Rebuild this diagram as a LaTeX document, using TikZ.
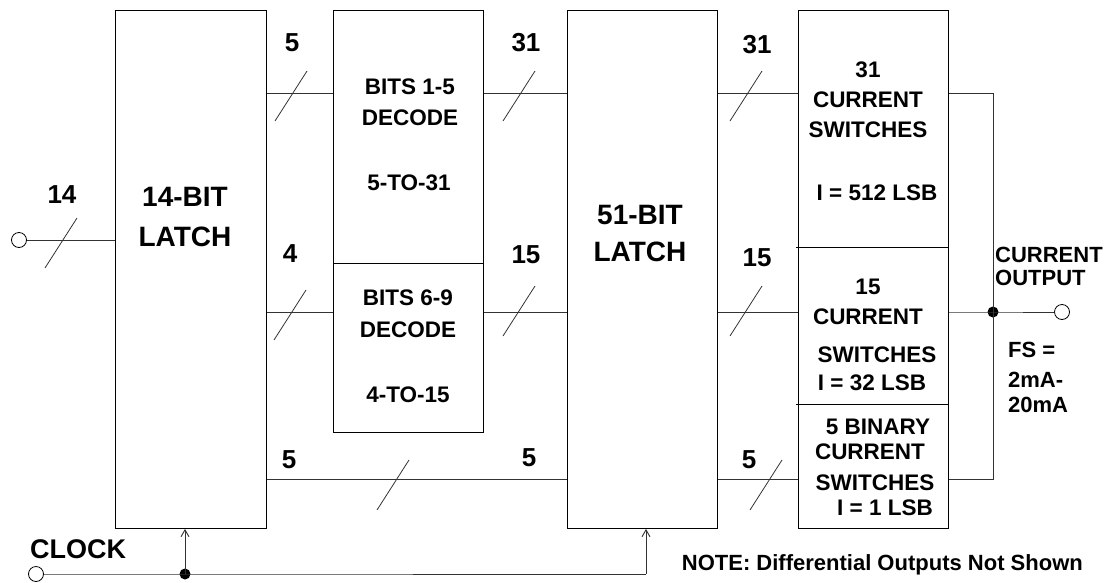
\documentclass[tikz,border=0pt]{standalone}
\usepackage{fontspec}
\setmainfont{Liberation Sans}[BoldFont={Liberation Sans Bold}]
\usetikzlibrary{arrows.meta,calc}
\begin{document}
\begin{tikzpicture}[x=1pt,y=-1pt,
  box/.style={draw=black,line width=0.9pt,inner sep=0pt,anchor=north west},
  wire/.style={draw=black!80,line width=0.9pt},
  lbl/.style={font=\bfseries\fontsize{26}{28}\selectfont,inner sep=0pt},
  big/.style={font=\bfseries\fontsize{28}{30}\selectfont,inner sep=0pt},
  txt/.style={font=\bfseries\fontsize{22.5}{24}\selectfont,inner sep=0pt},
  side/.style={font=\bfseries\fontsize{22}{24}\selectfont,inner sep=0pt,anchor=west},
  term/.style={circle,draw=black,line width=0.8pt,fill=white,minimum size=15pt,inner sep=0pt},
  dot/.style={circle,fill=black,minimum size=11pt,inner sep=0pt}]
\useasboundingbox (0,0) rectangle (1104,582);
\newcommand\busslash[1]{\draw[wire,line width=0.8pt] ([shift={(-16,25)}]#1) -- ([shift={(16,-25)}]#1);}
% boxes
\node[box,minimum width=151pt,minimum height=518pt] (L1) at (115,10) {};
\node[box,minimum width=150pt,minimum height=253pt] (D1) at (333,10) {};
\node[box,minimum width=150pt,minimum height=169pt] (D2) at (333,263) {};
\node[box,minimum width=150pt,minimum height=518pt] (L2) at (567,10) {};
\node[box,minimum width=150pt,minimum height=518pt] (SW) at (798,10) {};
\draw[line width=0.9pt] ([xshift=-2pt]SW.west |- 0,247) -- (SW.east |- 0,247);
\draw[line width=0.9pt] ([xshift=-2pt]SW.west |- 0,404) -- (SW.east |- 0,404);
% rows
\coordinate (r1) at (0,93);
\coordinate (r2) at (0,312);
\coordinate (r3) at (0,479);
\coordinate (rin) at (0,240);
\coordinate (rck) at (0,574);
% terminals
\node[term] (IN) at (19,240) {};
\node[term] (CK) at (36,574) {};
\node[term] (OUT) at (1062,312) {};
\node[dot] (J1) at (185,574) {};
\node[dot] (J2) at (993,312) {};
\coordinate (CKend) at (646,574);
\coordinate (SUMt) at (993,93);
\coordinate (SUMb) at (993,479);
% wires
\draw[wire] (IN.east) -- (L1.west |- rin);
\draw[wire] (L1.east |- r1) -- (D1.west |- r1);
\draw[wire] (D1.east |- r1) -- (L2.west |- r1);
\draw[wire] (L2.east |- r1) -- (SW.west |- r1);
\draw[wire] (L1.east |- r2) -- (D2.west |- r2);
\draw[wire] (D2.east |- r2) -- (L2.west |- r2);
\draw[wire] (L2.east |- r2) -- (SW.west |- r2);
\draw[wire] (L1.east |- r3) -- (L2.west |- r3);
\draw[wire] (L2.east |- r3) -- (SW.west |- r3);
\draw[wire] (SW.east |- r1) -- (SUMt) -- (SUMb) -- (SW.east |- r3);
\draw[wire] (SW.east |- r2) -- (J2.center) -- (OUT.west);
\draw[wire] (CK.east) -- (J1.center) -- (CKend);
\draw[wire,-{Straight Barb[length=7pt,width=8pt]}] (J1.center) -- (J1 |- L1.south);
\draw[wire,-{Straight Barb[length=7pt,width=8pt]}] (CKend) -- (CKend |- L2.south);
% bus slashes
\coordinate (s1) at (61,243);
\coordinate (s2) at (291,96);
\coordinate (s3) at (290,315);
\coordinate (s4) at (519,96);
\coordinate (s5) at (519,311);
\coordinate (s6) at (393,485);
\coordinate (s7) at (746,96);
\coordinate (s8) at (746,311);
\coordinate (s9) at (766,485);
\busslash{s1}\busslash{s2}\busslash{s3}\busslash{s4}\busslash{s5}
\busslash{s6}\busslash{s7}\busslash{s8}\busslash{s9}
% bus labels
\node[lbl] (n14) at (62,195) {14};
\node[lbl] (n5a) at (292,43) {5};
\node[lbl] (n4) at (290,254) {4};
\node[lbl] (n5b) at (289,460) {5};
\node[lbl] (n31a) at (526,43) {31};
\node[lbl] (n15a) at (526,255) {15};
\node[lbl] (n5c) at (529,458) {5};
\node[lbl] (n31b) at (757,45) {31};
\node[lbl] (n15b) at (757,258) {15};
\node[lbl] (n5d) at (749,460) {5};
% box texts
\node[big] (t1) at (185,197) {14-BIT};
\node[big] (t2) at (185,237) {LATCH};
\node[big] (t3) at (640,215) {51-BIT};
\node[big] (t4) at (640,252) {LATCH};
\node[txt] (d1) at (410,87) {BITS 1-5};
\node[txt] (d2) at (410,118) {DECODE};
\node[txt] (d3) at (409,183) {5-TO-31};
\node[txt] (d4) at (408,298) {BITS 6-9};
\node[txt] (d5) at (408,330) {DECODE};
\node[txt] (d6) at (408,395) {4-TO-15};
\node[txt] (w1) at (868,70) {31};
\node[txt] (w2) at (868,100) {CURRENT};
\node[txt] (w3) at (868,130) {SWITCHES};
\node[txt] (w4) at (877,193) {I = 512 LSB};
\node[txt] (w5) at (868,287) {15};
\node[txt] (w6) at (868,317) {CURRENT};
\node[txt] (w7) at (877,355) {SWITCHES};
\node[txt] (w8) at (872,383) {I = 32 LSB};
\node[txt] (w9) at (878,427) {5 BINARY};
\node[txt] (w10) at (870,452) {CURRENT};
\node[txt] (w11) at (875,483) {SWITCHES};
\node[txt] (w12) at (885,508) {I = 1 LSB};
% side texts
\node[side] (o1) at (995,255) {CURRENT};
\node[side] (o2) at (995,278) {OUTPUT};
\node[side] (f1) at (1008,350) {FS =};
\node[side] (f2) at (1008,380) {2mA-};
\node[side] (f3) at (1008,405) {20mA};
\node[lbl,anchor=west,font=\bfseries\fontsize{27}{29}\selectfont] (ck) at (30,549) {CLOCK};
\node[side,anchor=east] (note) at (1083,565) {NOTE: Differential Outputs Not Shown};
\end{tikzpicture}
\end{document}
